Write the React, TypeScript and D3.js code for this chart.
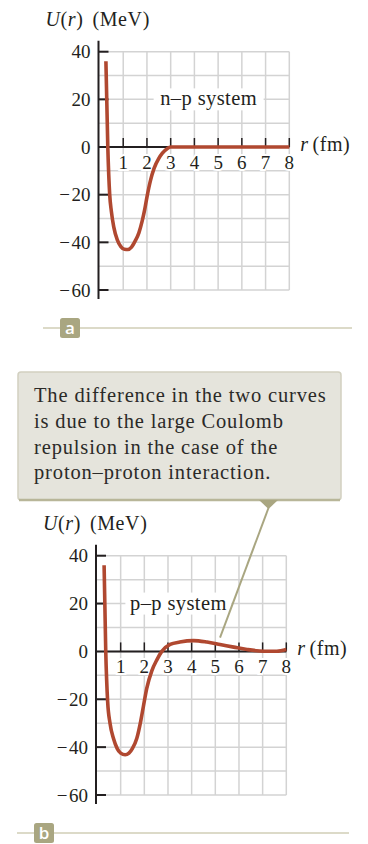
import React from "react";
import * as d3 from "d3";

// Nuclear potential energy U(r) in MeV versus separation r in fm
const npR = [0.27, 0.35, 0.43, 0.5, 0.6, 0.75, 0.9, 1.05, 1.2, 1.35, 1.5, 1.66, 1.8, 1.9, 2.0, 2.15, 2.3, 2.5, 2.65, 2.85, 3.0, 8];
const npU = [36, 0, -20, -27, -33.5, -39, -41.8, -42.9, -43, -42, -39.5, -36, -31, -26.5, -21, -14, -9, -4.8, -2.6, -0.7, 0, 0];

const ppR = [0.3, 0.37, 0.45, 0.55, 0.7, 0.85, 1.0, 1.19, 1.35, 1.5, 1.68, 1.85, 1.96, 2.1, 2.32, 2.53, 2.74, 3.09, 3.5, 4.08, 4.65, 5.2, 5.78, 6.34, 7.05, 7.6, 8];
const ppU = [36, 0, -21, -30, -36.5, -40.5, -42.5, -43.2, -42.5, -40.5, -36.4, -29, -23, -15.5, -8, -3.5, 0, 2.9, 3.9, 4.5, 3.9, 2.9, 1.8, 0.8, 0.1, 0.1, 0.8];

const xTickValues = [1, 2, 3, 4, 5, 6, 7, 8];
const yTickValues = [40, 20, 0, -20, -40, -60];
const gridValues = [-60, -50, -40, -30, -20, -10, 0, 10, 20, 30, 40];

const calloutLines = [
  "The difference in the two curves",
  "is due to the large Coulomb",
  "repulsion in the case of the",
  "proton–proton interaction.",
];

const SERIF = "'Liberation Serif', 'Times New Roman', serif";
const CURVE = "#b04830";
const AXIS = "#231f20";
const GRID = "#d3d3d3";
const TAG = "#a9a681";
const RULE = "#dcdac8";

type ChartProps = {
  xRange: [number, number];
  yRange: [number, number];
  r: number[];
  u: number[];
  name: string;
  nameR: number;
  boxW: number;
  tag: string;
  tagX: number;
  tagY: number;
  ruleX: [number, number];
  pointer?: { from: [number, number]; r: number; u: number };
};

function Chart(p: ChartProps) {
  const x = d3.scaleLinear().domain([0, 8]).range(p.xRange);
  const y = d3.scaleLinear().domain([-60, 40]).range(p.yRange);
  const line = d3
    .line<number>()
    .x((_, i) => x(p.r[i]))
    .y((d) => y(d))
    .curve(d3.curveMonotoneX);
  const ax = x(0) - 1;
  const y0 = y(0);
  const fmt = (v: number) => (v < 0 ? "−\u200A" + Math.abs(v) : String(v));

  return (
    <g>
      {/* grid */}
      {gridValues.map((g) => (
        <line key={"h" + g} x1={ax} x2={x(8)} y1={y(g)} y2={y(g)} stroke={GRID} strokeWidth={1.5} />
      ))}
      {xTickValues.map((t) => (
        <line key={"v" + t} x1={x(t)} x2={x(t)} y1={y(40)} y2={y(-60)} stroke={GRID} strokeWidth={1.5} />
      ))}

      {/* system label on a white patch */}
      <rect x={x(p.nameR) - p.boxW / 2} y={y(20) - 11} width={p.boxW} height={22} fill="#fff" />
      <text x={x(p.nameR)} y={y(20) + 6} textAnchor="middle" fontFamily={SERIF} fontSize={20.5} letterSpacing={0.4} fill={AXIS}>
        {p.name}
      </text>

      {/* x tick labels with halo over the grid */}
      {xTickValues.map((t) => (
        <text
          key={"xl" + t}
          x={x(t)}
          y={y0 + 21.5}
          textAnchor="middle"
          fontFamily={SERIF}
          fontSize={19}
          fill={AXIS}
          stroke="#fff"
          strokeWidth={4}
          paintOrder="stroke"
        >
          {t}
        </text>
      ))}

      {/* axes */}
      <line x1={ax} x2={ax} y1={y(40) - 11} y2={y(-60) + 9} stroke={AXIS} strokeWidth={2} />
      <line x1={ax} x2={x(8)} y1={y0} y2={y0} stroke={AXIS} strokeWidth={2} />
      {yTickValues
        .filter((t) => t !== 0)
        .map((t) => (
          <line key={"yt" + t} x1={ax} x2={ax + 10} y1={y(t)} y2={y(t)} stroke={AXIS} strokeWidth={2} />
        ))}
      {xTickValues.map((t) => (
        <line key={"xt" + t} x1={x(t)} x2={x(t)} y1={y0} y2={y0 - 9} stroke={AXIS} strokeWidth={1.5} />
      ))}
      {yTickValues.map((t) => (
        <text key={"yl" + t} x={ax - 8} y={y(t)} dy="0.35em" textAnchor="end" fontFamily={SERIF} fontSize={19} fill={AXIS}>
          {fmt(t)}
        </text>
      ))}

      {/* axis titles */}
      <text x={ax - 53} y={y(40) - 26} fontFamily={SERIF} fontSize={20} fill={AXIS} letterSpacing={0.6}>
        <tspan fontStyle="italic">U</tspan>
        <tspan>(</tspan>
        <tspan fontStyle="italic">r</tspan>
        <tspan>)</tspan>
        <tspan dx={9}>(MeV)</tspan>
      </text>
      <text x={x(8) + 11} y={y0 + 4} fontFamily={SERIF} fontSize={20} fill={AXIS} letterSpacing={0.5}>
        <tspan fontStyle="italic">r</tspan>
        <tspan dx={4}>(fm)</tspan>
      </text>

      {/* curve */}
      <path d={line(p.u) || ""} fill="none" stroke={CURVE} strokeWidth={3.6} strokeLinecap="butt" />

      {p.pointer && (
        <line
          x1={p.pointer.from[0]}
          y1={p.pointer.from[1]}
          x2={x(p.pointer.r)}
          y2={y(p.pointer.u)}
          stroke={TAG}
          strokeWidth={2}
        />
      )}

      {/* panel tag */}
      <line x1={p.ruleX[0]} x2={p.ruleX[1]} y1={p.tagY + 10} y2={p.tagY + 10} stroke={RULE} strokeWidth={2} />
      <rect x={p.tagX} y={p.tagY} width={20} height={20} rx={2.5} fill={TAG} />
      <text
        x={p.tagX + 10}
        y={p.tagY + 15.5}
        textAnchor="middle"
        fontFamily="'Open Sans', 'DejaVu Sans', sans-serif"
        fontSize={17}
        fontWeight={600}
        fill="#fff"
      >
        {p.tag}
      </text>
    </g>
  );
}

export default function App() {
  const tip: [number, number] = [268.5, 508];
  return (
    <svg
      width={368}
      height={844}
      viewBox="0 0 368 844"
      style={{ position: "absolute", left: 0, top: 0, display: "block", background: "#fff" }}
    >
      <Chart
        xRange={[99.5, 289.3]}
        yRange={[290, 51.7]}
        r={npR}
        u={npU}
        name="n–p system"
        nameR={4.6}
        boxW={110}
        tag="a"
        tagX={60}
        tagY={318}
        ruleX={[43, 352]}
      />

      {/* callout */}
      <rect x={18} y={372} width={323} height={128} rx={3} fill="#e5e4dc" stroke="#d2d0c0" strokeWidth={1.5} />
      <line x1={19} x2={340} y1={500} y2={500} stroke="#b8b699" strokeWidth={2.5} />
      <polygon points={`259,500 278,500 ${tip[0]},${tip[1] + 1}`} fill={TAG} />
      {calloutLines.map((l, i) => (
        <text key={i} x={34} y={401.7 + i * 25.9} fontFamily={SERIF} fontSize={20.5} letterSpacing={0.85} fill="#2b2a28">
          {l}
        </text>
      ))}

      <Chart
        xRange={[97, 286.3]}
        yRange={[795, 555.7]}
        r={ppR}
        u={ppU}
        name="p–p system"
        nameR={3.44}
        boxW={106}
        tag="b"
        tagX={34}
        tagY={823}
        ruleX={[17, 349]}
        pointer={{ from: tip, r: 5.2, u: 5.8 }}
      />
    </svg>
  );
}
